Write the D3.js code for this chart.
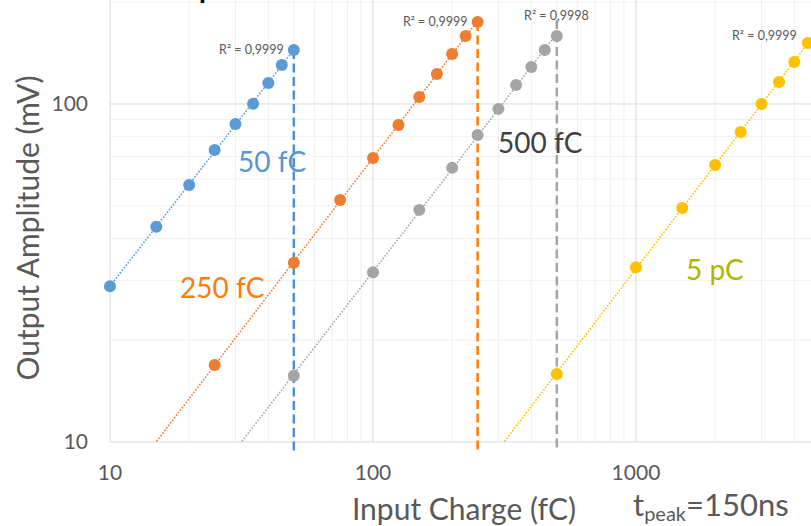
<!DOCTYPE html>
<html>
<head>
<meta charset="utf-8">
<script src="https://cdn.jsdelivr.net/npm/d3@7"></script>
<style>
  body { margin: 0; background: #fff; }
  text { font-family: Lato, 'Open Sans', sans-serif; }
  .tick { fill: #595959; font-size: 21px; }
  .axisTitle { fill: #595959; font-size: 30px; }
  .r2 { fill: #595959; font-size: 12.5px; }
  .seriesLabel { font-size: 28px; }
</style>
</head>
<body>
<svg id="chart" width="811" height="526"></svg>
<script>
// input charge (fC) and output amplitude (mV) per range
const charge50 = [10, 15, 20, 25, 30, 35, 40, 45, 50]
const amp50 = [28.9, 43.3, 57.6, 73.1, 87.3, 100.2, 115.4, 130.4, 144.5]

const charge250 = [25, 50, 75, 100, 125, 150, 175, 200, 225, 250]
const amp250 = [16.9, 33.9, 52.0, 69.2, 86.7, 104.9, 122.7, 140.6, 158.9, 174.8]

const charge500 = [50, 100, 150, 200, 250, 300, 350, 400, 450, 500]
const amp500 = [15.7, 31.8, 48.6, 64.7, 80.9, 96.7, 113.8, 128.6, 144.5, 158.9]

const charge5p = [500, 1000, 1500, 2000, 2500, 3000, 3500, 4000, 4500]
const amp5p = [15.9, 32.9, 49.2, 66.0, 82.6, 100, 116.2, 133.1, 151.5]

const seriesNames = ['50 fC', '250 fC', '500 fC', '5 pC']
const r2Labels = ['R² = 0,9999', 'R² = 0,9999', 'R² = 0,9998', 'R² = 0,9999']
// trendline forecast start (fC)
const trendFrom = [8, 10, 20, 200]
// full-scale markers: charge and top of the dashed line (mV)
const markerCharge = [50, 250, 500]
const markerTop = [144.5, 174.8, 177]

const xTicks = [10, 100, 1000]
const yTicks = [10, 100]
const xDomain = [10, 4630]
const yDomain = [10, 203]

const svg = d3.select('#chart')

const plot = { left: 110, right: 811, top: 0, bottom: 442 }

const x = d3.scaleLog().domain(xDomain).range([plot.left, plot.right])
const y = d3.scaleLog().domain(yDomain).range([plot.bottom, plot.top])

const colors = ['#5b9bd5', '#ed7d31', '#a5a5a5', '#ffc000']
const markerColors = ['#4f8fd2', '#ff7f00', '#a5a5a5']
const labelColors = ['#5b93d3', '#fb7d0a', '#404040', '#b2b400']

const series = [
  { charge: charge50, amp: amp50 },
  { charge: charge250, amp: amp250 },
  { charge: charge500, amp: amp500 },
  { charge: charge5p, amp: amp5p },
]

// grid lines (major decades + minor 2..9)
const minorX = []
for (let d = 10; d < xDomain[1]; d *= 10) {
  for (let k = 2; k < 10; k++) if (d * k < xDomain[1]) minorX.push(d * k)
}
const minorY = []
for (let d = 10; d < yDomain[1]; d *= 10) {
  for (let k = 2; k < 10; k++) if (d * k < yDomain[1]) minorY.push(d * k)
}

const grid = svg.append('g')

grid.selectAll('.minorX')
  .data(minorX)
  .enter()
  .append('line')
  .attr('x1', d => x(d)).attr('x2', d => x(d))
  .attr('y1', plot.top).attr('y2', plot.bottom)
  .attr('stroke', '#f0f0f0')

grid.selectAll('.minorY')
  .data(minorY)
  .enter()
  .append('line')
  .attr('x1', plot.left).attr('x2', plot.right)
  .attr('y1', d => y(d)).attr('y2', d => y(d))
  .attr('stroke', '#f0f0f0')

grid.selectAll('.majorX')
  .data(xTicks)
  .enter()
  .append('line')
  .attr('x1', d => x(d)).attr('x2', d => x(d))
  .attr('y1', plot.top).attr('y2', plot.bottom)
  .attr('stroke', '#d9d9d9')

grid.selectAll('.majorY')
  .data(yTicks)
  .enter()
  .append('line')
  .attr('x1', plot.left).attr('x2', plot.right)
  .attr('y1', d => y(d)).attr('y2', d => y(d))
  .attr('stroke', '#d9d9d9')

// tick labels
svg.append('g')
  .selectAll('text')
  .data(xTicks)
  .enter()
  .append('text')
  .attr('class', 'tick')
  .attr('x', d => x(d))
  .attr('y', 480)
  .attr('text-anchor', 'middle')
  .text(d => d)

svg.append('g')
  .selectAll('text')
  .data(yTicks)
  .enter()
  .append('text')
  .attr('class', 'tick')
  .attr('x', 88)
  .attr('y', d => y(d) + 7)
  .attr('text-anchor', 'end')
  .text(d => d)

// power trendlines (least squares in log-log)
const clip = svg.append('clipPath').attr('id', 'plotClip')
clip.append('rect')
  .attr('x', plot.left).attr('y', plot.top)
  .attr('width', plot.right - plot.left).attr('height', plot.bottom - plot.top)

const fitPower = (xs, ys) => {
  const lx = xs.map(Math.log10)
  const ly = ys.map(Math.log10)
  const mx = d3.mean(lx)
  const my = d3.mean(ly)
  const b = d3.sum(lx, (v, i) => (v - mx) * (ly[i] - my)) / d3.sum(lx, v => (v - mx) * (v - mx))
  const a = my - b * mx
  return v => Math.pow(10, a + b * Math.log10(v))
}

const trendGroup = svg.append('g').attr('clip-path', 'url(#plotClip)')
series.forEach((s, i) => {
  const f = fitPower(s.charge, s.amp)
  const ends = [trendFrom[i], d3.max(s.charge)]
  trendGroup.append('line')
    .attr('x1', x(ends[0])).attr('y1', y(f(ends[0])))
    .attr('x2', x(ends[1])).attr('y2', y(f(ends[1])))
    .attr('stroke', colors[i])
    .attr('stroke-width', 1.6)
    .attr('stroke-dasharray', '1.6,1.6')
})

// dashed full-scale markers
svg.append('g')
  .selectAll('line')
  .data(markerCharge)
  .enter()
  .append('line')
  .attr('x1', d => x(d)).attr('x2', d => x(d))
  .attr('y1', (d, i) => y(markerTop[i]))
  .attr('y2', plot.bottom + 10)
  .attr('stroke', (d, i) => markerColors[i])
  .attr('stroke-width', 2.5)
  .attr('stroke-dasharray', '9,4.5')

// points
series.forEach((s, i) => {
  svg.append('g')
    .selectAll('circle')
    .data(s.charge)
    .enter()
    .append('circle')
    .attr('cx', d => x(d))
    .attr('cy', (d, j) => y(s.amp[j]))
    .attr('r', 6)
    .attr('fill', colors[i])
})

// R² labels next to the last point of each fit
const r2Offset = [[-10, 4], [-10, 4], [32, -16], [-11, -3]]
series.forEach((s, i) => {
  const last = s.charge.length - 1
  svg.append('text')
    .attr('class', 'r2')
    .attr('x', x(s.charge[last]) + r2Offset[i][0])
    .attr('y', y(s.amp[last]) + r2Offset[i][1])
    .attr('text-anchor', 'end')
    .text(r2Labels[i])
})

// range labels
const labelPos = [[238, 172], [180, 298], [498, 153], [686, 280]]
svg.append('g')
  .selectAll('text')
  .data(seriesNames)
  .enter()
  .append('text')
  .attr('class', 'seriesLabel')
  .attr('x', (d, i) => labelPos[i][0])
  .attr('y', (d, i) => labelPos[i][1])
  .attr('fill', (d, i) => labelColors[i])
  .text(d => d)

// axis titles
svg.append('text')
  .attr('class', 'axisTitle')
  .attr('transform', 'translate(39, 228) rotate(-90)')
  .attr('text-anchor', 'middle')
  .text('Output Amplitude (mV)')

svg.append('text')
  .attr('class', 'axisTitle')
  .attr('x', 464)
  .attr('y', 520)
  .attr('text-anchor', 'middle')
  .text('Input Charge (fC)')

const tpeak = svg.append('text')
  .attr('x', 633)
  .attr('y', 516)
  .attr('fill', '#595959')
  .style('font-size', '31px')
tpeak.append('tspan').text('t')
tpeak.append('tspan').attr('dy', 5).style('font-size', '20px').text('peak')
tpeak.append('tspan').attr('dy', -5).text('=150ns')

// bottom of the cut-off title
svg.append('text')
  .attr('x', 199)
  .attr('y', -2)
  .attr('fill', '#000')
  .style('font-size', '28px')
  .style('font-weight', 'bold')
  .text('p')
</script>
</body>
</html>
